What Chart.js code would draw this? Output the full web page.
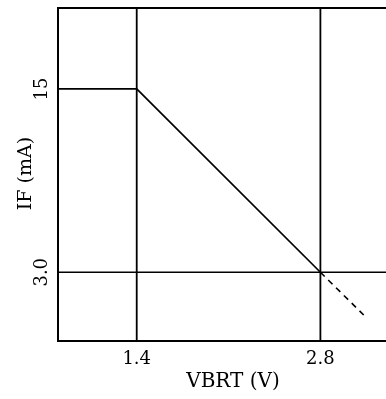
<!DOCTYPE html>
<html>
<head>
<meta charset="utf-8">
<script src="https://cdn.jsdelivr.net/npm/chart.js@4"></script>
<style>
    html, body { margin: 0; padding: 0; background: #fff; }
    #chart { display: block; }
</style>
</head>
<body>
<canvas id="chart" width="386" height="399"></canvas>
<script>
(function () {
    // axis ranges and ticks (VBRT in V, IF in mA)
    const xRange = [0.8, 3.3];
    const yRange = [-1.5, 20.3];
    const xTicks = [1.4, 2.8];
    const xTickLabels = ['1.4', '2.8'];
    const yTicks = [3.0, 15];
    const yTickLabels = ['3.0', '15'];
    const xTitle = 'VBRT (V)';
    const yTitle = 'IF (mA)';

    // derating curve: flat, then falling to 2.8 V
    const curveX = [0.8, 1.4, 2.8];
    const curveY = [15, 15, 3.0];
    // dashed extension past 2.8 V
    const extX = [2.8, 3.13];
    const extY = [3.0, 0.2];

    const FONT = "'DejaVu Serif', 'Liberation Serif', serif";

    function pts(xs, ys) {
        return xs.map((x, i) => ({ x: x, y: ys[i] }));
    }

    function line(data, width, dash) {
        return {
            data: data,
            showLine: true,
            borderColor: '#000',
            borderWidth: width,
            borderDash: dash || [],
            pointRadius: 0,
            fill: false,
        };
    }

    const datasets = [];
    xTicks.forEach((v) => {
        datasets.push(line([{ x: v, y: yRange[0] }, { x: v, y: yRange[1] }], 1.8));
    });
    datasets.push(line([{ x: xRange[0], y: yTicks[0] }, { x: xRange[1], y: yTicks[0] }], 1.6));
    datasets.push(line(pts(curveX, curveY), 1.7));
    datasets.push(line(pts(extX, extY), 1.6, [6, 5]));

    function rotatedText(ctx, text, x, y) {
        ctx.save();
        ctx.translate(x, y);
        ctx.rotate(-Math.PI / 2);
        ctx.fillText(text, 0, 0);
        ctx.restore();
    }

    // top frame edge, axis titles and rotated y tick labels
    const framePlugin = {
        id: 'frame',
        afterDraw(chart) {
            const ctx = chart.ctx;
            const area = chart.chartArea;
            ctx.save();
            ctx.strokeStyle = '#000';
            ctx.lineWidth = 2;
            ctx.beginPath();
            ctx.moveTo(area.left, area.top);
            ctx.lineTo(area.right, area.top);
            ctx.stroke();

            const yScale = chart.scales.y;
            ctx.fillStyle = '#000';
            ctx.textAlign = 'center';
            ctx.textBaseline = 'middle';
            ctx.font = '18px ' + FONT;
            yTicks.forEach((v, i) => {
                rotatedText(ctx, yTickLabels[i], area.left - 16, yScale.getPixelForValue(v));
            });

            ctx.font = '20px ' + FONT;
            ctx.fillText(xTitle, (area.left + area.right) / 2 + 11, area.bottom + 41);
            ctx.font = '19px ' + FONT;
            rotatedText(ctx, yTitle, area.left - 32, (area.top + area.bottom) / 2 - 1);
            ctx.restore();
        },
    };

    try {
        new Chart(document.getElementById('chart'), {
            type: 'scatter',
            data: { datasets: datasets },
            options: {
                responsive: false,
                animation: false,
                layout: { padding: { top: 8, right: 0, left: 0, bottom: 0 } },
                plugins: { legend: { display: false }, tooltip: { enabled: false } },
                scales: {
                    x: {
                        type: 'linear',
                        min: xRange[0],
                        max: xRange[1],
                        afterBuildTicks: (scale) => { scale.ticks = xTicks.map((v) => ({ value: v })); },
                        afterFit: (scale) => { scale.height = 58; },
                        grid: { display: false, drawTicks: false },
                        border: { display: true, color: '#000', width: 2 },
                        ticks: {
                            color: '#000',
                            padding: 8,
                            maxRotation: 0,
                            font: { family: FONT, size: 18 },
                            callback: (v) => xTickLabels[xTicks.indexOf(v)],
                        },
                    },
                    y: {
                        type: 'linear',
                        min: yRange[0],
                        max: yRange[1],
                        afterBuildTicks: (scale) => { scale.ticks = yTicks.map((v) => ({ value: v })); },
                        afterFit: (scale) => { scale.width = 58; },
                        grid: { display: false, drawTicks: false },
                        border: { display: true, color: '#000', width: 2 },
                        ticks: { display: false },
                    },
                },
            },
            plugins: [framePlugin],
        });
    } catch (error) {
        console.error('Chart failed:', error);
    }
})();
</script>
</body>
</html>
